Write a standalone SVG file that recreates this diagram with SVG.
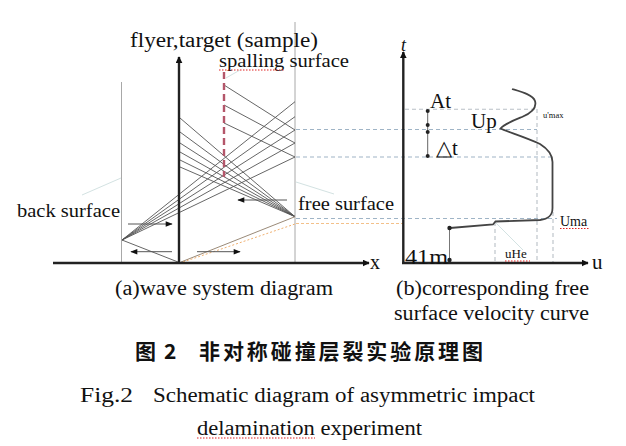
<svg xmlns="http://www.w3.org/2000/svg" width="626" height="446" viewBox="0 0 626 446">
<defs>
<marker id="ah" viewBox="0 0 10 10" refX="9" refY="5" markerWidth="7" markerHeight="7" orient="auto" markerUnits="userSpaceOnUse">
<path d="M0,0 L10,5 L0,10 z" fill="#111"/>
</marker>
<marker id="ahs" viewBox="0 0 10 10" refX="9" refY="5" markerWidth="8" markerHeight="7" orient="auto" markerUnits="userSpaceOnUse">
<path d="M0,1 L10,5 L0,9 z" fill="#111"/>
</marker>
</defs>
<style>
text{font-family:"Liberation Serif","Times New Roman",serif;fill:#111}
.ax{stroke:#222;stroke-width:2.4;fill:none}
.ray{stroke:#555;stroke-width:0.9;fill:none}
.wall{stroke:#a8a8a8;stroke-width:1;fill:none}
.dsh{stroke:#9fb4c6;stroke-width:1.2;stroke-dasharray:4 3;fill:none}
.gd{stroke:#b9c0c6;stroke-width:1.1;stroke-dasharray:4 3;fill:none}
.arr{stroke:#555;stroke-width:1;fill:none}
.faint{stroke:#d3e2e2;stroke-width:1;fill:none}
.squig{stroke:#e02020;stroke-width:1;stroke-dasharray:1.5 1.5;fill:none}
.dot{fill:#222}
.cap{font-size:20px}
.cjk{font-family:"Noto Sans CJK SC","Noto Sans",sans-serif;font-weight:bold;font-size:21px}
</style>
<rect width="626" height="446" fill="#fff"/>

<g id="panel-a">
<g id="walls">
<line class="wall" x1="121.5" y1="82" x2="121.5" y2="263"/>
<line class="wall" x1="295" y1="22" x2="295" y2="263" stroke="#c4c4c4"/>
<line class="faint" x1="82" y1="195" x2="121" y2="178"/>
<line class="faint" x1="296" y1="182" x2="334" y2="194"/>
<line class="faint" x1="226" y1="78" x2="240" y2="70"/>
</g>
<g id="connectors">
<line class="ray" x1="122" y1="240" x2="295" y2="101.7"/>
<line class="ray" x1="122" y1="240" x2="295" y2="116.7"/>
<line class="ray" x1="122" y1="240" x2="295" y2="130"/>
<line class="ray" x1="122" y1="240" x2="295" y2="143"/>
<line class="ray" x1="122" y1="240" x2="295" y2="157"/>
<line class="ray" x1="180" y1="118" x2="295" y2="216.7"/>
<line class="ray" x1="180" y1="132" x2="295" y2="216.7"/>
<line class="ray" x1="180" y1="143" x2="295" y2="216.7"/>
<line class="ray" x1="180" y1="152" x2="295" y2="216.7"/>
<line class="ray" x1="180" y1="160" x2="295" y2="216.7"/>
<line class="ray" x1="180" y1="167" x2="295" y2="216.7"/>
<line class="ray" x1="224" y1="85" x2="295" y2="130"/>
<line class="ray" x1="224" y1="105" x2="295" y2="143"/>
<line class="ray" x1="224" y1="123" x2="295" y2="157"/>
<line class="ray" x1="122" y1="240" x2="178" y2="262"/>
<line x1="181" y1="262" x2="295" y2="216.7" stroke="#9a8a78" stroke-width="1"/>
<line x1="183" y1="262" x2="295" y2="224" stroke="#f0b070" stroke-width="1" stroke-dasharray="2 2"/>
<line class="arr" x1="128" y1="224" x2="172" y2="224" marker-end="url(#ahs)"/>
<line class="arr" x1="172" y1="251.7" x2="131" y2="251.7" marker-end="url(#ahs)"/>
<line class="arr" x1="197" y1="251.7" x2="240" y2="251.7" marker-end="url(#ahs)"/>
<line class="arr" x1="287" y1="200" x2="238" y2="200" marker-end="url(#ahs)"/>
</g>
<g id="spalling-surface">
<line x1="224" y1="72" x2="224" y2="177" stroke="#b4566a" stroke-width="2.4" stroke-dasharray="7 4"/>
</g>
<g id="axes-a">
<line class="ax" x1="53" y1="263" x2="369" y2="263" stroke-width="2" marker-end="url(#ah)"/>
<line class="ax" x1="179" y1="263" x2="179" y2="57" marker-end="url(#ah)"/>
</g>
<g id="labels-a">
<text x="130" y="46.5" font-size="20" textLength="188" lengthAdjust="spacingAndGlyphs">flyer,target (sample)</text>
<text x="219" y="67" font-size="19" textLength="130" lengthAdjust="spacingAndGlyphs">spalling surface</text>
<line class="squig" x1="219" y1="70" x2="284" y2="70"/>
<text x="17" y="216.5" font-size="19" textLength="103" lengthAdjust="spacingAndGlyphs">back surface</text>
<text x="298" y="210" font-size="19" textLength="96" lengthAdjust="spacingAndGlyphs">free surface</text>
<text x="370" y="268.5" font-size="20">x</text>
</g>
</g>

<g id="panel-b">
<g id="guides">
<line class="gd" x1="405" y1="109.3" x2="537" y2="109.3"/>
<line class="dsh" x1="296" y1="129.5" x2="537" y2="129.5"/>
<line class="dsh" x1="296" y1="157" x2="555" y2="157"/>
<line class="dsh" x1="296" y1="218.5" x2="557" y2="218.5"/>
<line x1="296" y1="223.5" x2="403" y2="223.5" stroke="#f3c089" stroke-width="1.1" stroke-dasharray="3 2"/>
<line class="gd" x1="495" y1="222" x2="495" y2="263"/>
<line class="gd" x1="537" y1="109" x2="537" y2="263"/>
<line class="gd" x1="553" y1="212" x2="553" y2="263"/>
<line class="faint" x1="496" y1="223" x2="523" y2="250"/>
</g>
<g id="delta-t">
<line x1="427.7" y1="111" x2="427.7" y2="156" stroke="#666" stroke-width="1"/>
<circle class="dot" cx="427.7" cy="111" r="2"/>
<circle class="dot" cx="427.7" cy="125" r="2"/>
<circle class="dot" cx="427.7" cy="132" r="2"/>
<circle class="dot" cx="427.7" cy="156" r="2"/>
</g>
<g id="velocity-curve">
<path d="M450,228 L493,224.5 L495.5,221.5 L540,220 C548,219 552.5,216 552.5,208 L552.5,162 C552.5,154 548,149 540,144 C525,137 505,131 500.5,128.5 C504,124 512,121 522,117 C532,113 537,108 535,101 C533,95 522,92 512,89" fill="none" stroke="#444" stroke-width="1.8"/>
<line x1="449.5" y1="228" x2="449.5" y2="263" stroke="#777" stroke-width="1"/>
<circle class="dot" cx="449.5" cy="228" r="2.2"/>
<circle class="dot" cx="449.5" cy="260" r="2.2"/>
</g>
<g id="axes-b">
<line class="ax" x1="403.3" y1="263" x2="403.3" y2="52" marker-end="url(#ah)"/>
<line class="ax" x1="402" y1="263" x2="588" y2="263" stroke-width="2" marker-end="url(#ah)"/>
</g>
<g id="labels-b">
<text x="401" y="51" font-size="18" font-style="italic" fill="#555">t</text>
<text x="430" y="108" font-size="21">At</text>
<text x="471" y="128" font-size="21">Up</text>
<text x="436" y="155" font-size="21" fill="#3d5f8e">△t</text>
<text x="543" y="118" font-size="8.5">u'max</text>
<text x="560" y="225.5" font-size="14">Uma</text>
<line class="squig" x1="560" y1="228.5" x2="589" y2="228.5"/>
<text x="505" y="258" font-size="13">uHe</text>
<line class="squig" x1="505" y1="261" x2="530" y2="261"/>
<text x="405" y="263.5" font-size="22" textLength="43" lengthAdjust="spacingAndGlyphs">41m</text>
<text x="592" y="269" font-size="21">u</text>
</g>
</g>

<g id="captions">
<text class="cap" x="115" y="295" textLength="218" lengthAdjust="spacingAndGlyphs">(a)wave system diagram</text>
<text class="cap" x="396" y="295" textLength="193" lengthAdjust="spacingAndGlyphs">(b)corresponding free</text>
<text class="cap" x="394" y="320" textLength="195" lengthAdjust="spacingAndGlyphs">surface velocity curve</text>
<text class="cjk" x="135" y="359">图</text>
<text class="cjk" x="164" y="359">2</text>
<text class="cjk" x="199" y="359" textLength="284" lengthAdjust="spacing">非对称碰撞层裂实验原理图</text>
<text class="cap" x="80" y="401.5" textLength="53" lengthAdjust="spacingAndGlyphs">Fig.2</text>
<text class="cap" x="153" y="401.5" textLength="382" lengthAdjust="spacingAndGlyphs">Schematic diagram of asymmetric impact</text>
<text class="cap" x="197" y="435" textLength="225" lengthAdjust="spacingAndGlyphs">delamination experiment</text>
<line class="squig" x1="197" y1="438" x2="315" y2="438"/>
</g>
</svg>
